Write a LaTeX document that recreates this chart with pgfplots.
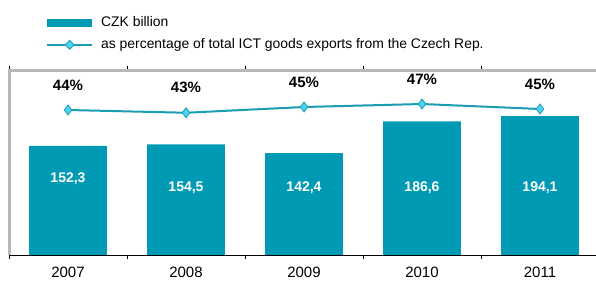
\documentclass[border=0pt]{standalone}
\usepackage{pgfplots}
\pgfplotsset{compat=1.18}
\usepackage{fontspec}
\setmainfont{Liberation Sans}
\definecolor{barc}{HTML}{009AB4}
\definecolor{linec}{HTML}{1A9DB2}
\definecolor{markc}{HTML}{4DD3F0}
\definecolor{framec}{HTML}{B8B8B8}
\begin{document}
\begin{tikzpicture}
\path[use as bounding box] (0,0) rectangle (596bp,281bp);
\begin{axis}[
  at={(9bp,26bp)}, anchor=south west,
  scale only axis, width=590bp, height=184.5bp,
  xmin=-0.5, xmax=4.5, ymin=0, ymax=257.7,
  axis line style={draw=none},
  ytick=\empty,
  xtick={0,1,2,3,4},
  xticklabels={2007,2008,2009,2010,2011},
  major tick length=0pt,
  extra x ticks={-0.5,0.5,1.5,2.5,3.5,4.5},
  extra x tick labels={},
  extra x tick style={major tick length=4bp, tick style={black, line width=0.6bp}},
  tick align=outside,
  x tick label style={font=\fontsize{15bp}{17bp}\selectfont, yshift=-9bp},
  /pgf/number format/assume math mode=true,
  clip=false,
  legend style={draw=none, fill=none, at={(axis description cs:0.0627,1.295)}, anchor=north west,
     inner xsep=0pt, inner ysep=0pt, row sep=9bp,
     font=\fontsize{13.9bp}{15bp}\selectfont,
     nodes={inner sep=0pt, text height=10bp, text depth=3bp},
     /tikz/every odd column/.style={column sep=8bp}},
  legend cell align=left,
  after end axis/.code={
    \draw[framec, line width=3bp] (rel axis cs:0,0) -- (rel axis cs:0,1) -- (rel axis cs:1,1);
    \draw[black, line width=0.9bp] (rel axis cs:0,0) -- (rel axis cs:1,0);
  },
]
\addplot[ybar, bar width=0.66, fill=barc, draw=none,
  legend image code/.code={\fill[barc] (0bp,-4bp) rectangle (45bp,4bp);}]
  coordinates {(0,152.3) (1,154.5) (2,142.4) (3,186.6) (4,194.1)};
\addlegendentry{CZK billion}
\addlegendimage{legend image code/.code={
   \draw[linec, line width=2bp] (0bp,0bp) -- (45bp,0bp);
   \draw[linec, fill=markc, line width=0.8bp] (22.5bp,0bp) +(-4.5bp,0) -- +(0,4.5bp) -- +(4.5bp,0) -- +(0,-4.5bp) -- cycle;}}
\addlegendentry{as percentage of total ICT goods exports from the Czech Rep.}
\addplot[draw=none, mark=none, point meta=explicit,
  nodes near coords={\pgfmathprintnumber[fixed,precision=1,fixed zerofill,use comma,assume math mode=true]{\pgfplotspointmeta}},
  every node near coord/.style={anchor=center, text=white, font=\bfseries\fontsize{14bp}{16bp}\selectfont}]
  coordinates {(0,106)[152.3] (1,93.6)[154.5] (2,93.6)[142.4] (3,93.6)[186.6] (4,94.5)[194.1]};
\end{axis}
\begin{axis}[
  at={(9bp,26bp)}, anchor=south west,
  scale only axis, width=590bp, height=184.5bp,
  xmin=-0.5, xmax=4.5, ymin=-13.8, ymax=60,
  hide axis, clip=false,
]
\addplot[linec, line width=2bp, mark=diamond*, mark size=5bp,
  mark options={draw=linec, fill=markc, line width=0.8bp},
  nodes near coords={\pgfmathprintnumber[fixed,precision=0,assume math mode=true]{\pgfplotspointmeta}\%},
  point meta=y,
  every node near coord/.style={anchor=center, yshift=25bp, text=black, font=\bfseries\fontsize{15bp}{17bp}\selectfont}]
  coordinates {(0,44.2) (1,43.1) (2,45.4) (3,46.6) (4,44.6)};
\end{axis}
\end{tikzpicture}
\end{document}
